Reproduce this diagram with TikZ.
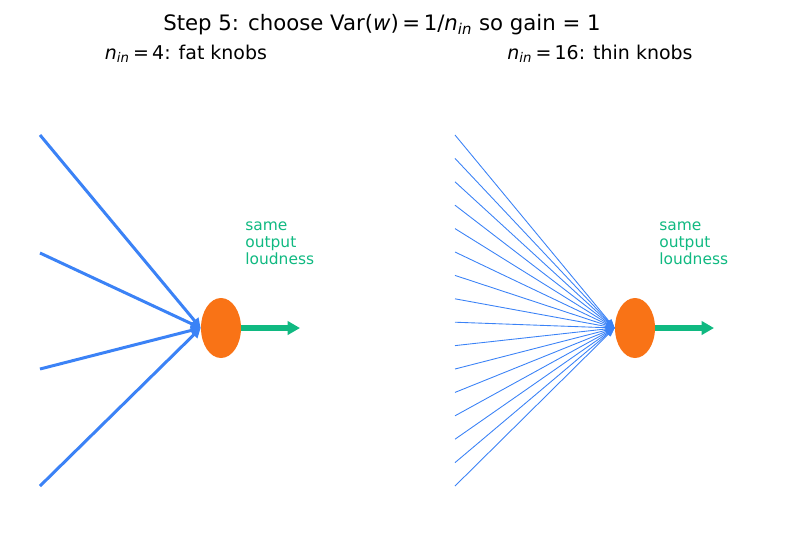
\documentclass[tikz,border=0pt]{standalone}
\usepackage{fontspec}
\setmainfont{DejaVu Sans}
\usetikzlibrary{arrows.meta,shapes.geometric}
\definecolor{knobblue}{HTML}{3B82F6}
\definecolor{somaorange}{HTML}{F97316}
\definecolor{outgreen}{HTML}{10B981}
\newcommand{\nin}{\textit{n}\textsubscript{\textit{in}}}
\tikzset{
  soma/.style={ellipse, fill=somaorange, inner sep=0pt, minimum width=0.8cm, minimum height=1.2cm},
  fatknob/.style={knobblue, line width=1.7pt, -{Triangle[length=5.5pt,width=5.5pt]}},
  thinknob/.style={knobblue, line width=0.5pt, -{Triangle[length=5pt,width=3.5pt]}},
  outarrow/.style={outgreen, line width=3pt, -{Triangle[length=7pt,width=7.5pt]}},
  loud/.style={outgreen, font=\fontsize{8.8}{9.7}\selectfont, align=left, anchor=north west, inner sep=0pt}
}
\begin{document}
\begin{tikzpicture}[x=0.02cm,y=-0.02cm]
  \useasboundingbox (0,0) rectangle (787,539);
  % titles
  \node (title) at (382,25) {\fontsize{12.1}{14}\selectfont Step 5: choose Var(\textit{w})\,=\,1/\nin{} so gain = 1};
  \node (subL) at (186,54) {\fontsize{10.8}{12}\selectfont \nin\,=\,4: fat knobs};
  \node (subR) at (600,54) {\fontsize{10.8}{12}\selectfont \nin\,=\,16: thin knobs};
  % left: four fat inputs
  \node[soma] (somaL) at (221,328) {};
  \coordinate (s1) at (40,135);
  \coordinate (s2) at (40,253);
  \coordinate (s3) at (40,369);
  \coordinate (s4) at (40,486);
  \draw[fatknob] (s1) -- (somaL.west);
  \draw[fatknob] (s2) -- (somaL.west);
  \draw[fatknob] (s3) -- (somaL.west);
  \draw[fatknob] (s4) -- (somaL.west);
  \coordinate (outL) at (300,328);
  \draw[outarrow] (somaL.east) -- (outL);
  \node[loud] (loudL) at (245,221) {same\\output\\loudness};
  % right: sixteen thin inputs
  \node[soma] (somaR) at (635,328) {};
  \foreach \i in {0,...,15} {
    \coordinate (t\i) at (455,{135+\i*23.4});
    \draw[thinknob] (t\i) -- (somaR.west);
  }
  \coordinate (outR) at (714,328);
  \draw[outarrow] (somaR.east) -- (outR);
  \node[loud] (loudR) at (659,221) {same\\output\\loudness};
\end{tikzpicture}
\end{document}
